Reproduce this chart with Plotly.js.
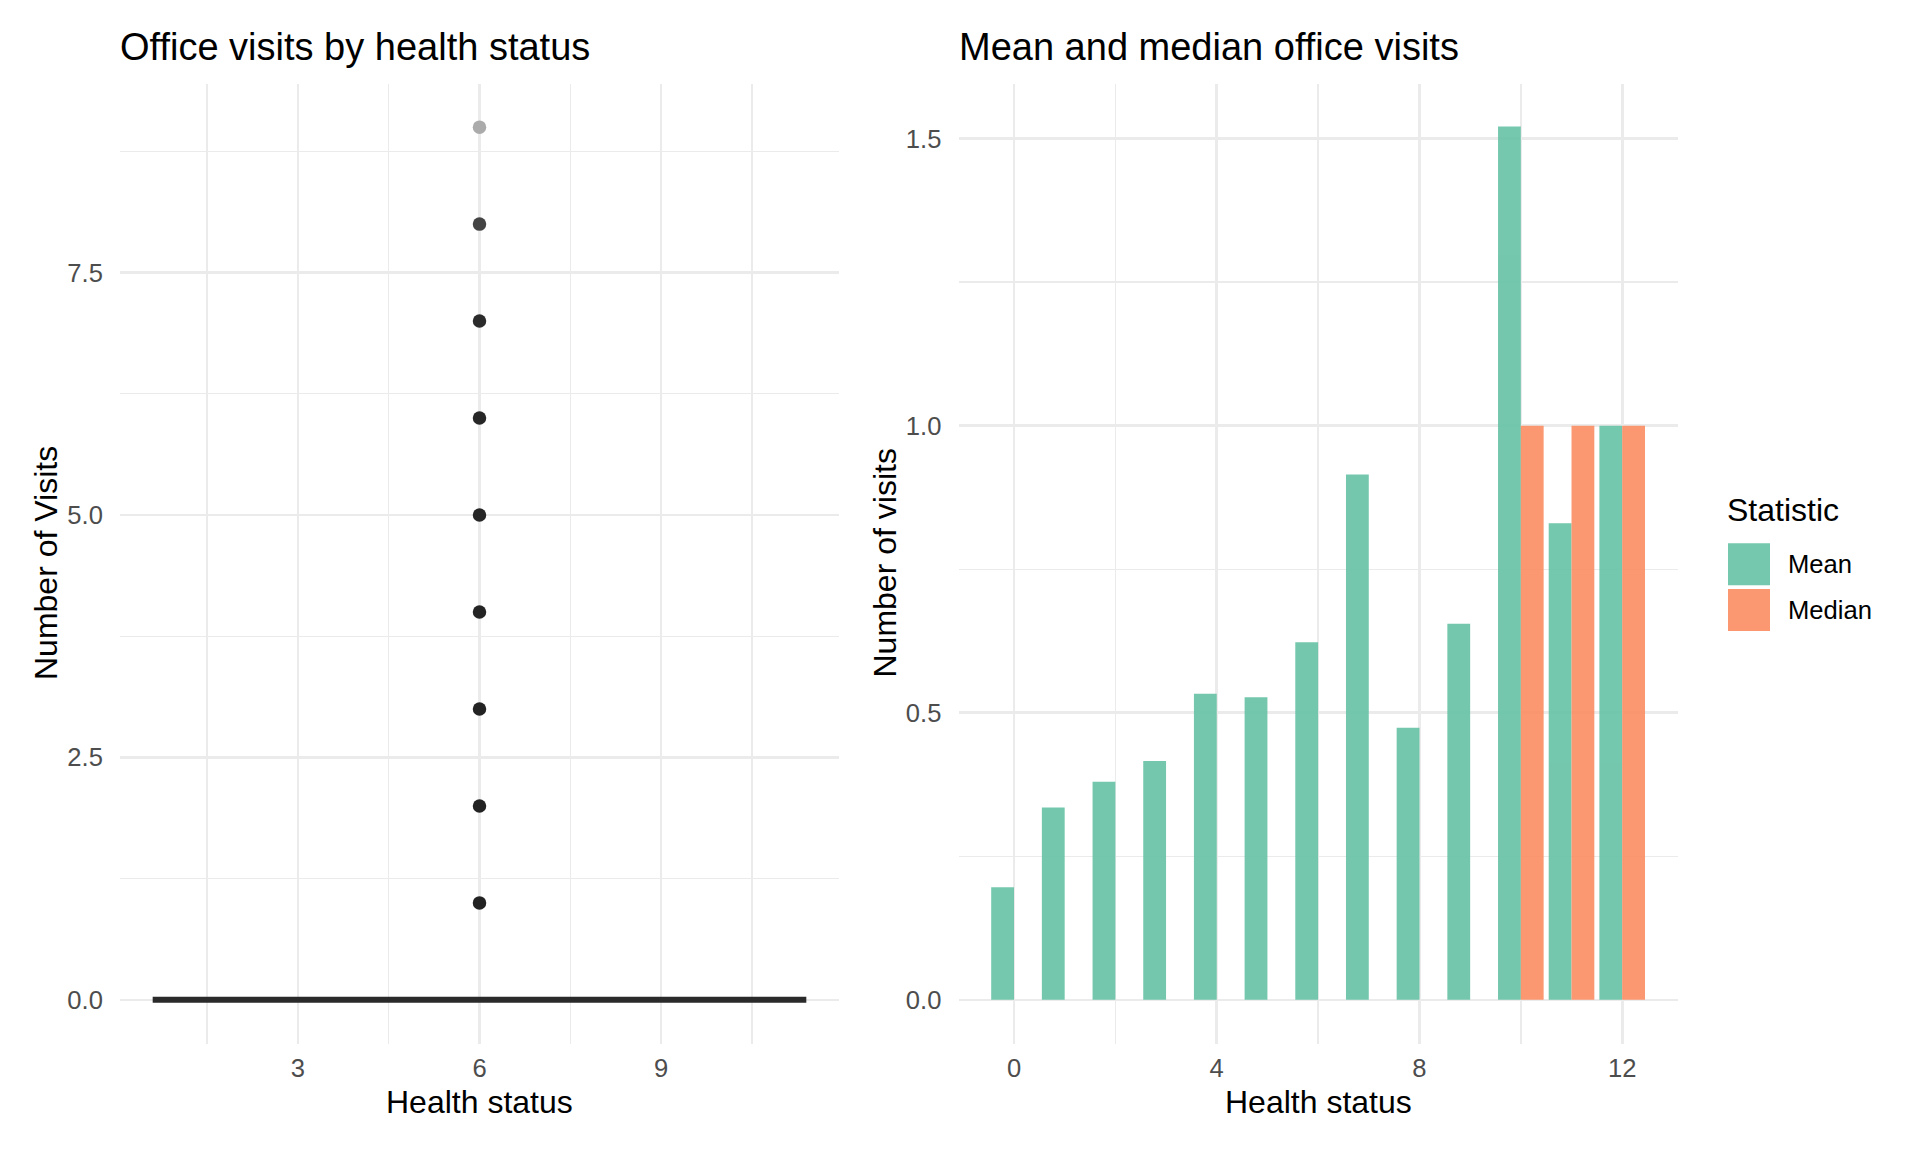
<!DOCTYPE html>
<html>
<head>
<meta charset="utf-8">
<script src="https://cdn.plot.ly/plotly-3.0.1.min.js"></script>
<style>
html, body { margin: 0; padding: 0; background: #fff; }
#chart { width: 1920px; height: 1152px; }
</style>
</head>
<body>
<div id="chart"></div>
<script>
// ---- Data ----
const healthStatus = [0, 1, 2, 3, 4, 5, 6, 7, 8, 9, 10, 11, 12];
const meanVisits   = [0.196, 0.335, 0.380, 0.416, 0.533, 0.527, 0.623, 0.915, 0.474, 0.655, 1.521, 0.830, 1.000];
const medianVisits = [0, 0, 0, 0, 0, 0, 0, 0, 0, 0, 1, 1, 1];
const statNames = ["Mean", "Median"];

// Box plot (single box over all health statuses) summary
const boxCenter = [6];
const boxQ1 = [0], boxMedian = [0], boxQ3 = [0], boxLower = [0], boxUpper = [0];
const boxWidthUnits = 10.8;
// Outlier visit counts shown at the box centre
const outlierX = [6, 6, 6, 6, 6, 6, 6, 6, 6];
const outlierVisits = [1, 2, 3, 4, 5, 6, 7, 8, 9];

// ---- Style ----
const statColors = ["#66C2A5", "#FC8D62"];
const outlierColors = ["#222222", "#222222", "#232323", "#242424", "#262626", "#272727", "#2b2b2b", "#444444", "#ababab"];
const FONT = "Liberation Sans, Arial, Helvetica, sans-serif";
const W = 1920, H = 1152;
const px = v => v / W, py = v => 1 - v / H;

const gridMajor = "#EBEBEB";
const tickFont = { family: FONT, size: 25.6, color: "#4D4D4D" };

const traces = [
  {
    type: "box", x: boxCenter, q1: boxQ1, median: boxMedian, q3: boxQ3,
    lowerfence: boxLower, upperfence: boxUpper, width: boxWidthUnits,
    xaxis: "x", yaxis: "y", boxpoints: false, showlegend: false,
    line: { color: "#2a2a2a", width: 6 }, fillcolor: "#ffffff", hoverinfo: "skip"
  },
  {
    type: "scatter", mode: "markers", x: outlierX, y: outlierVisits,
    xaxis: "x", yaxis: "y", showlegend: false,
    marker: { size: 13.5, color: outlierColors }
  },
  {
    type: "bar", name: statNames[0], x: healthStatus, y: meanVisits,
    xaxis: "x2", yaxis: "y2", marker: { color: statColors[0], line: { width: 0 } },
    opacity: 0.9, showlegend: false
  },
  {
    type: "bar", name: statNames[1], x: healthStatus, y: medianVisits,
    xaxis: "x2", yaxis: "y2", marker: { color: statColors[1], line: { width: 0 } },
    opacity: 0.9, showlegend: false
  }
];

const yDom = [py(1043.5), py(83.5)];
function axisBase(extra) {
  return Object.assign({
    showline: false, zeroline: false, showgrid: true,
    gridcolor: gridMajor, gridwidth: 2.7,
    ticks: "outside", tickcolor: "rgba(0,0,0,0)",
    tickfont: tickFont, fixedrange: true
  }, extra);
}
const minorGrid = { showgrid: true, gridcolor: gridMajor, gridwidth: 1.4, ticks: "" };

const annotations = [
  { text: "Office visits by health status", x: px(117.5), y: py(46.5), xanchor: "left", yanchor: "middle",
    font: { family: FONT, size: 38, color: "#000" } },
  { text: "Mean and median office visits", x: px(956.5), y: py(46.5), xanchor: "left", yanchor: "middle",
    font: { family: FONT, size: 38, color: "#000" } },
  { text: "Health status", x: px(479.5), y: py(1102), xanchor: "center", yanchor: "middle",
    font: { family: FONT, size: 32, color: "#000" } },
  { text: "Health status", x: px(1318), y: py(1102), xanchor: "center", yanchor: "middle",
    font: { family: FONT, size: 32, color: "#000" } },
  { text: "Number of Visits", x: px(45.5), y: py(563.5), xanchor: "center", yanchor: "middle", textangle: -90,
    font: { family: FONT, size: 32, color: "#000" } },
  { text: "Number of visits", x: px(884), y: py(563.5), xanchor: "center", yanchor: "middle", textangle: -90,
    font: { family: FONT, size: 32, color: "#000" } },
  { text: "Statistic", x: px(1724.5), y: py(509.5), xanchor: "left", yanchor: "middle",
    font: { family: FONT, size: 32, color: "#000" } }
].map(a => Object.assign({ xref: "paper", yref: "paper", showarrow: false }, a));

// Legend (keys built from the series names and colours)
const shapes = [];
const keyLeft = 1728, keyTop = 543.3, keySize = 42, keyStep = 45.7;
statNames.forEach((name, i) => {
  const top = keyTop + i * keyStep;
  shapes.push({ type: "rect", xref: "paper", yref: "paper",
    x0: px(keyLeft), x1: px(keyLeft + keySize), y0: py(top + keySize), y1: py(top),
    fillcolor: statColors[i], opacity: 0.9, line: { width: 0 } });
  annotations.push({ xref: "paper", yref: "paper", showarrow: false, text: name,
    x: px(1786), y: py(top + keySize / 2), xanchor: "left", yanchor: "middle",
    font: { family: FONT, size: 25.6, color: "#000" } });
});

const layout = {
  width: W, height: H,
  margin: { l: 0, r: 0, t: 0, b: 0, pad: 0 },
  paper_bgcolor: "#fff", plot_bgcolor: "#fff",
  font: { family: FONT },
  showlegend: false,
  barmode: "group", bargap: 0.1, bargroupgap: 0,
  xaxis: axisBase({
    domain: [px(120), px(839)], anchor: "y", range: [0.06, 11.94],
    tickvals: [3, 6, 9], ticktext: ["3", "6", "9"], ticklen: 2,
    minor: Object.assign({ tickvals: [1.5, 4.5, 7.5, 10.5] }, minorGrid)
  }),
  yaxis: axisBase({
    domain: yDom, anchor: "x", range: [-0.45, 9.45],
    tickvals: [0, 2.5, 5, 7.5], ticktext: ["0.0", "2.5", "5.0", "7.5"], ticklen: 11,
    minor: Object.assign({ tickvals: [1.25, 3.75, 6.25, 8.75] }, minorGrid)
  }),
  xaxis2: axisBase({
    domain: [px(958.5), px(1677.7)], anchor: "y2", range: [-1.095, 13.095],
    tickvals: [0, 4, 8, 12], ticktext: ["0", "4", "8", "12"], ticklen: 2,
    minor: Object.assign({ tickvals: [2, 6, 10] }, minorGrid)
  }),
  yaxis2: axisBase({
    domain: yDom, anchor: "x2", range: [-0.076, 1.596],
    tickvals: [0, 0.5, 1, 1.5], ticktext: ["0.0", "0.5", "1.0", "1.5"], ticklen: 11,
    minor: Object.assign({ tickvals: [0.25, 0.75, 1.25] }, minorGrid)
  }),
  annotations: annotations,
  shapes: shapes
};

Plotly.newPlot("chart", traces, layout, { staticPlot: true, displayModeBar: false });
</script>
</body>
</html>
